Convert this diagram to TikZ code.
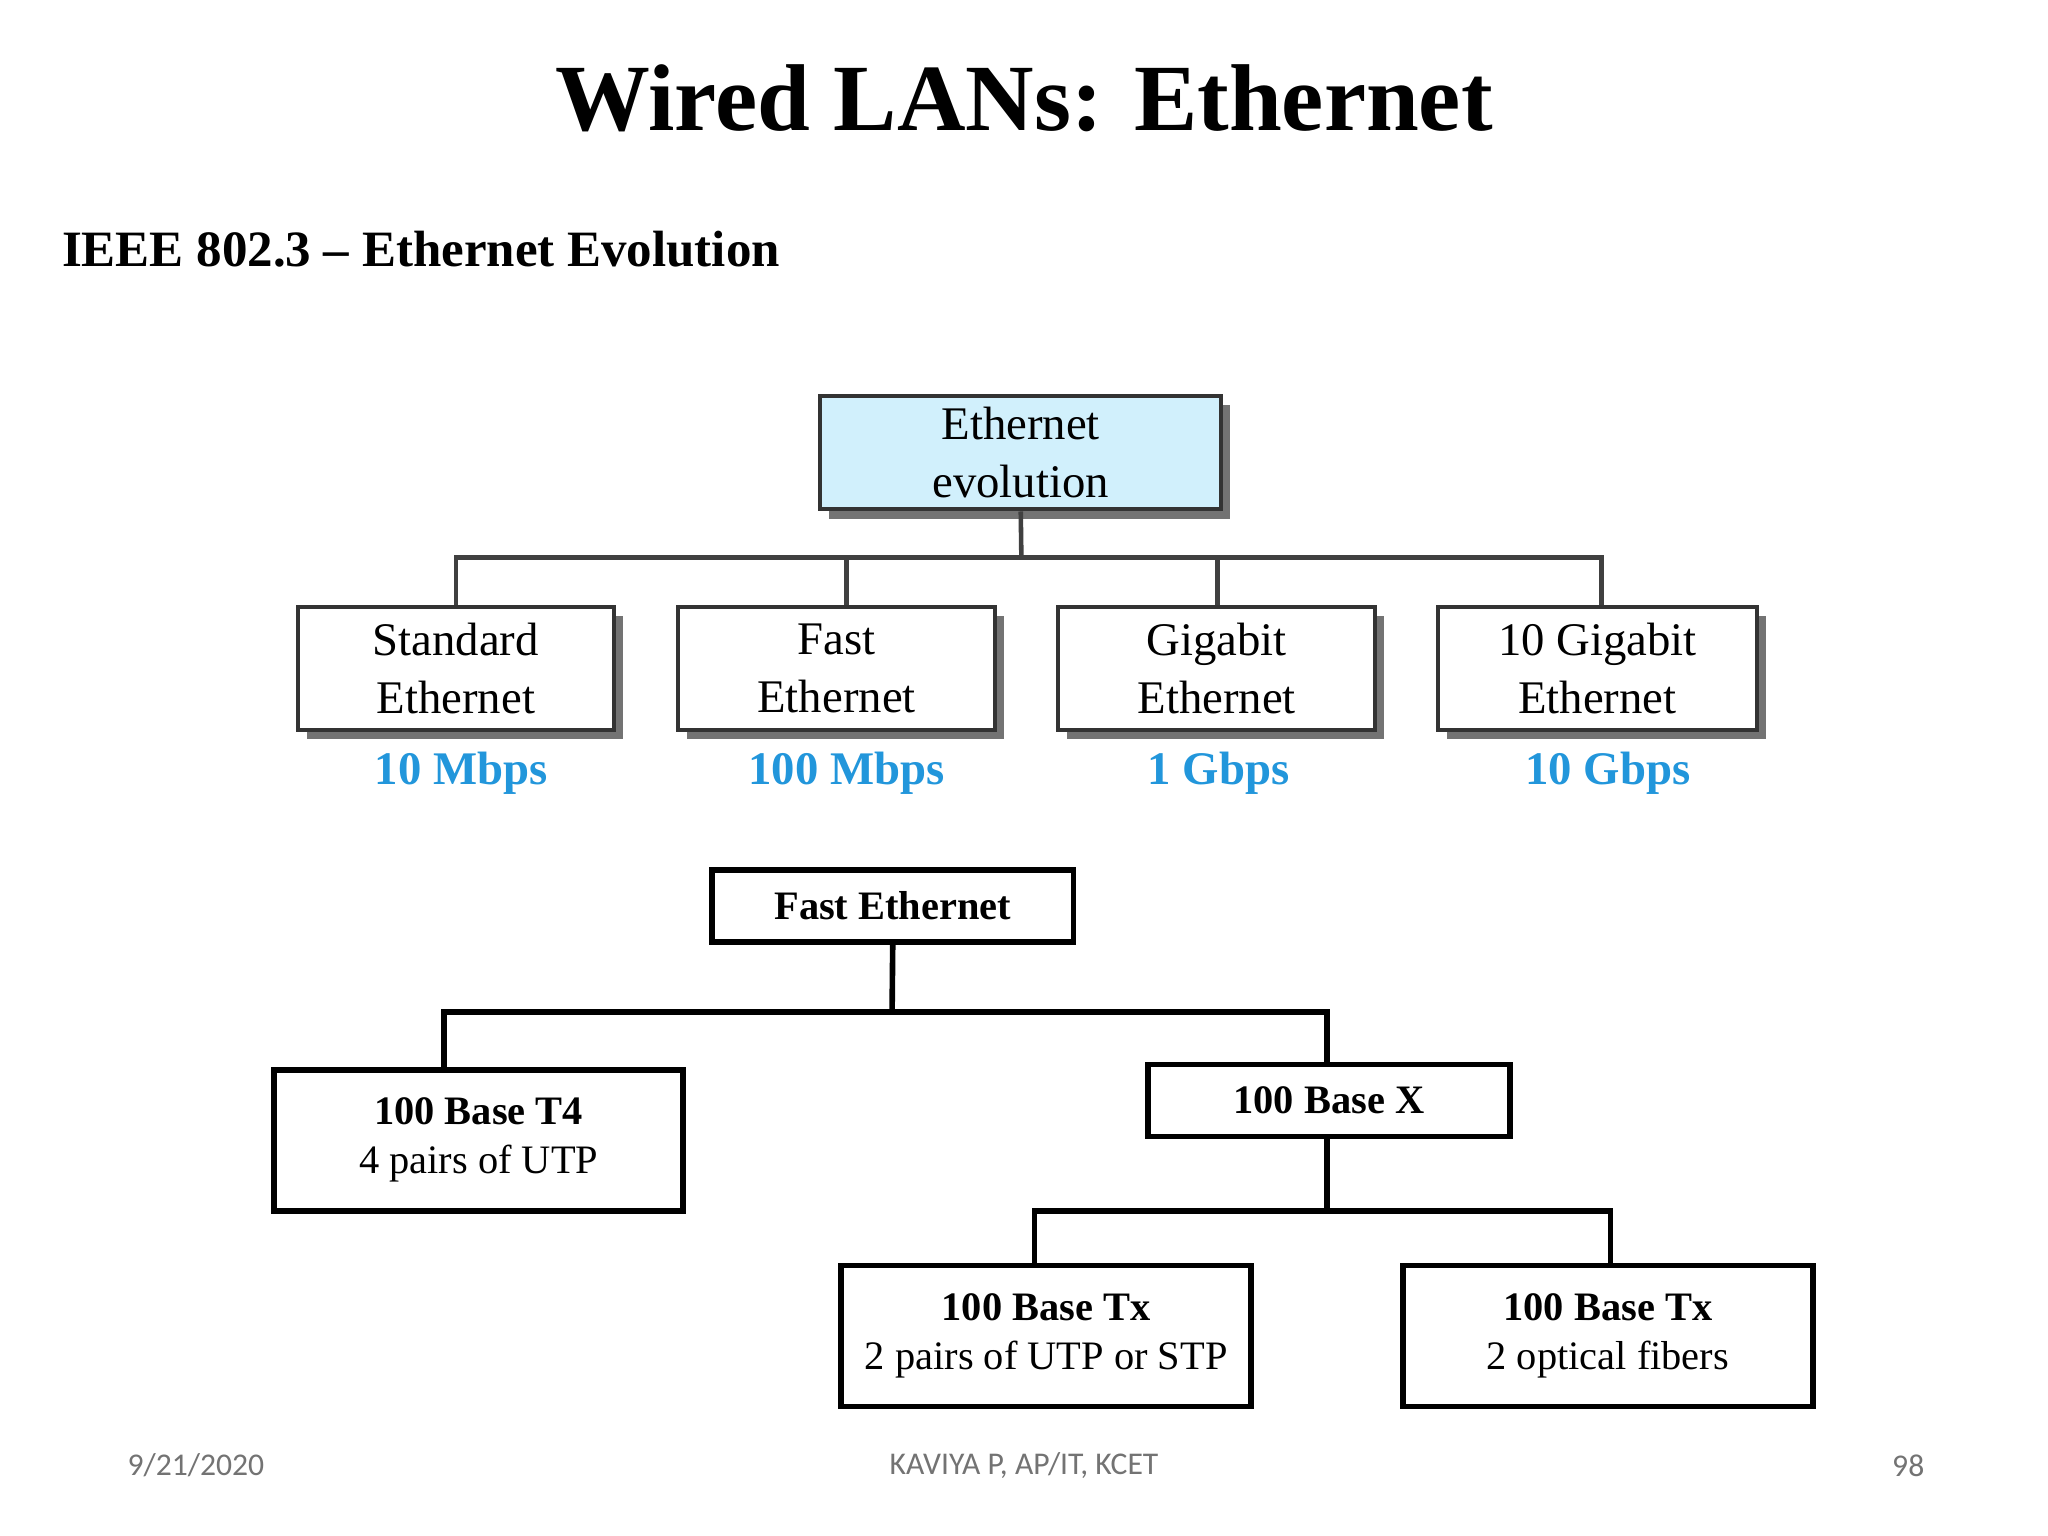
\documentclass[tikz,border=0pt]{standalone}
\usepackage{fontspec}
\setmainfont{Liberation Serif}
\newfontfamily\footfont{Carlito}
\begin{document}
\begin{tikzpicture}[x=0.013061cm,y=-0.013061cm,
 ebox/.style={draw=black!80,line width=1.2pt,fill=white,align=center,font=\fontsize{13.3}{16.5}\selectfont,inner sep=0pt},
 shad/.style={fill=black!55},
 tline/.style={draw=black!75,line width=1.3pt},
 speed/.style={text=cyan!75!blue!90!white,font=\bfseries\fontsize{13.3}{16}\selectfont},
 fbox/.style={draw=black,line width=1.6pt,fill=white,align=center,font=\fontsize{11.5}{14}\selectfont,inner sep=0pt},
 bline/.style={draw=black,line width=1.6pt},
 foot/.style={text=black!55,font=\footfont\fontsize{9}{11}\selectfont}]
\useasboundingbox (0,0) rectangle (1568,1176);
\fill[white] (0,0) rectangle (1568,1176);
\node (title) at (784,75) {\bfseries\fontsize{27}{32}\selectfont Wired LANs: Ethernet};
\node[anchor=west] (sub) at (38,191) {\bfseries\fontsize{14.5}{18}\selectfont IEEE 802.3 -- Ethernet Evolution};
% top tree
\coordinate (tb) at (782,427);
\fill[shad] (635,310) rectangle (942,397);
\node[ebox,fill=cyan!18,minimum width=307*0.3716pt,minimum height=87*0.3716pt] (root) at (781.5,346.5) {Ethernet\\evolution};
\foreach \n/\a/\b/\t in {std/228/470/{Standard\\Ethernet},fast/519/762/{Fast\\Ethernet},gig/810/1053/{Gigabit\\Ethernet},ten/1101/1345/{10 Gigabit\\Ethernet}}{
 \fill[shad] (\a+7,472) rectangle (\b+7,566);
 \node[ebox,minimum width={(\b-\a)*0.3716pt},minimum height=94*0.3716pt] (\n) at ({(\a+\b)/2},512) {\t};
}
\draw[tline] (root.south) -- (tb);
\draw[tline] (std.north -| 349,0) |- (tb);
\draw[tline] (ten.north -| 1226,0) |- (tb);
\draw[tline] (fast.north -| 648,0) -- (648,427);
\draw[tline] (gig.north -| 932,0) -- (932,427);
\node[speed] (s1) at (353,592) {10 Mbps};
\node[speed] (s2) at (648,592) {100 Mbps};
\node[speed] (s3) at (933,592) {1 Gbps};
\node[speed] (s4) at (1231,592) {10 Gbps};
% bottom tree
\node[fbox,minimum width=277*0.3716pt,minimum height=55*0.3716pt,font=\bfseries\fontsize{11.5}{14}\selectfont] (fe) at (683.5,693.5) {Fast Ethernet};
\node[fbox,minimum width=313*0.3716pt,minimum height=108*0.3716pt] (t4) at (366.5,873) {\textbf{100 Base T4}\\4 pairs of UTP};
\node[fbox,minimum width=277*0.3716pt,minimum height=55*0.3716pt,font=\bfseries\fontsize{11.5}{14}\selectfont] (bx) at (1017.5,842.5) {100 Base X};
\node[fbox,minimum width=314*0.3716pt,minimum height=108*0.3716pt] (tx1) at (801,1023) {\textbf{100 Base Tx}\\2 pairs of UTP or STP};
\node[fbox,minimum width=314*0.3716pt,minimum height=108*0.3716pt] (tx2) at (1231,1023) {\textbf{100 Base Tx}\\2 optical fibers};
\coordinate (b1) at (683,775);
\coordinate (b2) at (1016,927);
\draw[bline] (fe.south) -- (b1);
\draw[bline] (t4.north -| 340,0) |- (b1);
\draw[bline] (bx.north -| 1016,0) |- (b1);
\draw[bline] (bx.south -| 1016,0) -- (b2);
\draw[bline] (tx1.north -| 792,0) |- (b2);
\draw[bline] (tx2.north -| 1233,0) |- (b2);
% footer
\node[foot] (d) at (150,1122) {9/21/2020};
\node[foot] (a) at (784,1122) {KAVIYA P, AP/IT, KCET};
\node[foot] (p) at (1461,1122) {98};
\end{tikzpicture}
\end{document}
